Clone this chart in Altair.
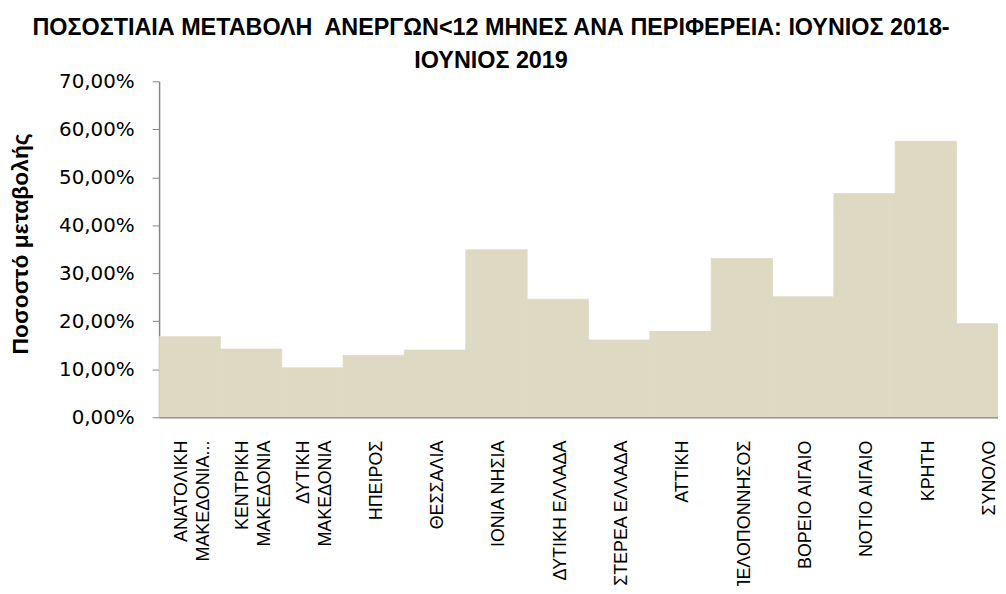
import altair as alt
import pandas as pd

regions = [
    "ΑΝΑΤΟΛΙΚΗ|ΜΑΚΕΔΟΝΙΑ...",
    "ΚΕΝΤΡΙΚΗ|ΜΑΚΕΔΟΝΙΑ",
    "ΔΥΤΙΚΗ|ΜΑΚΕΔΟΝΙΑ",
    "ΗΠΕΙΡΟΣ",
    "ΘΕΣΣΑΛΙΑ",
    "ΙΟΝΙΑ ΝΗΣΙΑ",
    "ΔΥΤΙΚΗ ΕΛΛΑΔΑ",
    "ΣΤΕΡΕΑ ΕΛΛΑΔΑ",
    "ΑΤΤΙΚΗ",
    "ΠΕΛΟΠΟΝΝΗΣΟΣ",
    "ΒΟΡΕΙΟ ΑΙΓΑΙΟ",
    "ΝΟΤΙΟ ΑΙΓΑΙΟ",
    "ΚΡΗΤΗ",
    "ΣΥΝΟΛΟ",
]
change = [0.168, 0.142, 0.103, 0.129, 0.140, 0.349, 0.246, 0.161, 0.179,
          0.331, 0.251, 0.466, 0.575, 0.195]

y_ticks = [0, 0.1, 0.2, 0.3, 0.4, 0.5, 0.6, 0.7]

title_lines = [
    "ΠΟΣΟΣΤΙΑΙΑ ΜΕΤΑΒΟΛΗ\u00a0 ΑΝΕΡΓΩΝ<12 ΜΗΝΕΣ ΑΝΑ ΠΕΡΙΦΕΡΕΙΑ: ΙΟΥΝΙΟΣ 2018-",
    "ΙΟΥΝΙΟΣ 2019",
]
y_title = "Ποσοστό μεταβολής"

df = pd.DataFrame({"region": regions, "change": change})

axis_gray = "#868686"
bar_color = "#DDD9C3"

chart = (
    alt.Chart(df)
    .mark_bar(color=bar_color, stroke=bar_color, strokeWidth=0.8, clip=True)
    .encode(
        x=alt.X(
            "region:N",
            sort=regions,
            scale=alt.Scale(range=[0, 864], paddingInner=0, paddingOuter=0),
            axis=alt.Axis(
                title=None,
                labelAngle=270,
                labelAlign="right",
                labelBaseline="middle",
                labelExpr="split(datum.label, '|')",
                labelFont="Liberation Sans",
                labelFontSize=18,
                labelLineHeight=22,
                labelColor="#000000",
                labelPadding=23,
                labelLimit=0,
                labelOverlap=False,
                labelOffset={
                    "condition": {"test": "indexof(datum.value, '|') >= 0", "value": -8},
                    "value": 3,
                },
                ticks=False,
                domainColor=axis_gray,
                domainWidth=1.5,
            ),
        ),
        y=alt.Y(
            "change:Q",
            scale=alt.Scale(domain=[0, 0.7], nice=False),
            axis=alt.Axis(
                values=y_ticks,
                labelExpr="replace(format(datum.value, '.2%'), '.', ',')",
                labelFont="DejaVu Sans",
                labelFontSize=20,
                labelColor="#000000",
                labelPadding=18,
                tickSize=7,
                tickColor=axis_gray,
                domainColor=axis_gray,
                domainWidth=1.5,
                grid=False,
                title=y_title,
                titleFont="Liberation Sans",
                titleFontSize=23,
                titleFontWeight="bold",
                titleColor="#000000",
                titleAngle=270,
                titleBaseline="alphabetic",
                titleAlign="center",
                titleX=-132,
                titleY=163,
            ),
        ),
    )
    .properties(
        width=844,
        height=338,
        autosize=alt.AutoSizeParams(type="none"),
        padding={"left": 152, "top": 72, "right": 0, "bottom": 168},
        title=alt.TitleParams(
            text=title_lines,
            font="Liberation Sans",
            fontSize=23.5,
            fontWeight="bold",
            color="#000000",
            lineHeight=33,
            anchor="middle",
            frame="group",
            dx=-88,
            dy=5,
        ),
    )
    .configure_view(stroke=None)
)

chart.save("out.html", embed_options={"renderer": "svg", "actions": False})
